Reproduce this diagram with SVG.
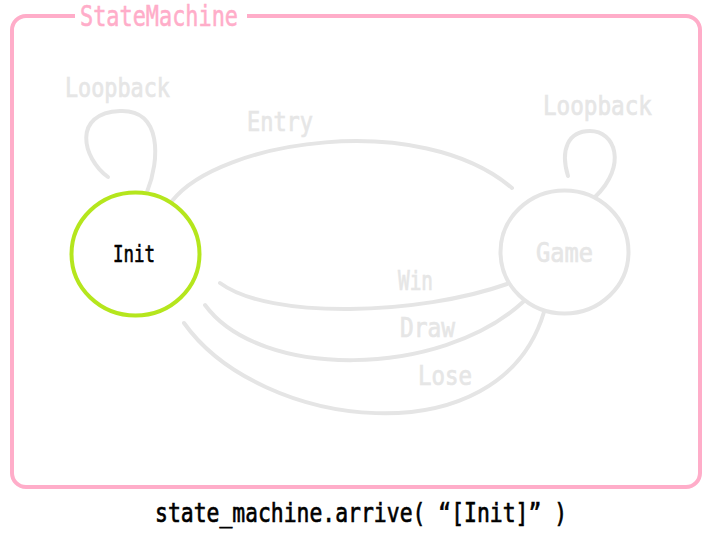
<svg xmlns="http://www.w3.org/2000/svg" width="709" height="538" viewBox="0 0 709 538">
<style>
.frame{fill:none;stroke:#ffadc9;stroke-width:4}
.edge{fill:none;stroke:#e5e5e5;stroke-width:4;stroke-linecap:round}
.lbl{font-family:"DejaVu Sans Mono","Liberation Mono",monospace;font-size:27px;fill:#e6e6e6;stroke:#e6e6e6;stroke-width:0.7}
.title{font-family:"DejaVu Sans Mono","Liberation Mono",monospace;font-size:29px;fill:#ffadc9;stroke:#ffadc9;stroke-width:0.6}
.node-active{fill:#ffffff;stroke:#b5e61d;stroke-width:4}
.node{fill:#ffffff;stroke:#e5e5e5;stroke-width:4}
.ntext{font-family:"DejaVu Sans Mono","Liberation Mono",monospace}
.code{font-family:"DejaVu Sans Mono","Liberation Mono",monospace;font-size:27px;fill:#000000;stroke:#000000;stroke-width:0.7}
</style>
<rect width="709" height="538" fill="#ffffff"/>
<g id="frame">
<path class="frame" d="M75,16 H26 A14,14 0 0 0 12,30 V473 A14,14 0 0 0 26,487 H686 A14,14 0 0 0 700,473 V30 A14,14 0 0 0 686,16 H247"/>
<text class="title" x="80" y="26" textLength="158" lengthAdjust="spacingAndGlyphs">StateMachine</text>
</g>
<g id="connectors">
<path class="edge" d="M108,177 C 82,158 72,113 120,111 C 162,109 160,160 147,192"/>
<path class="edge" d="M568,176 C 560,150 568,131 590,131 C 615,131 628,165 595,197"/>
<path class="edge" d="M172,201 C 220,140 420,110 512,188"/>
<path class="edge" d="M220,283 C 270,320 420,315 507,284"/>
<path class="edge" d="M205,305 C 260,380 440,378 523,302"/>
<path class="edge" d="M184,323 C 260,430 500,460 544,312"/>
<text class="lbl" x="65" y="97" textLength="105" lengthAdjust="spacingAndGlyphs">Loopback</text>
<text class="lbl" x="543" y="115" textLength="109" lengthAdjust="spacingAndGlyphs">Loopback</text>
<text class="lbl" x="247" y="131" textLength="66" lengthAdjust="spacingAndGlyphs">Entry</text>
<text class="lbl" x="398" y="290" textLength="35" lengthAdjust="spacingAndGlyphs">Win</text>
<text class="lbl" x="400" y="337" textLength="55" lengthAdjust="spacingAndGlyphs">Draw</text>
<text class="lbl" x="418" y="385" textLength="54" lengthAdjust="spacingAndGlyphs">Lose</text>
</g>
<g id="node-init">
<ellipse class="node-active" cx="135.5" cy="254" rx="64" ry="61.5"/>
<text class="ntext" x="113" y="262" font-size="23" fill="#000000" stroke="#000000" stroke-width="0.6" textLength="42" lengthAdjust="spacingAndGlyphs">Init</text>
</g>
<g id="node-game">
<ellipse class="node" cx="564.5" cy="252" rx="64" ry="61.5"/>
<text class="ntext" x="536" y="262" font-size="27" fill="#e6e6e6" stroke="#e6e6e6" stroke-width="0.7" textLength="57" lengthAdjust="spacingAndGlyphs">Game</text>
</g>
<g id="caption">
<text class="code" x="155" y="522" textLength="412" lengthAdjust="spacingAndGlyphs">state_machine.arrive( “[Init]” )</text>
</g>
</svg>
